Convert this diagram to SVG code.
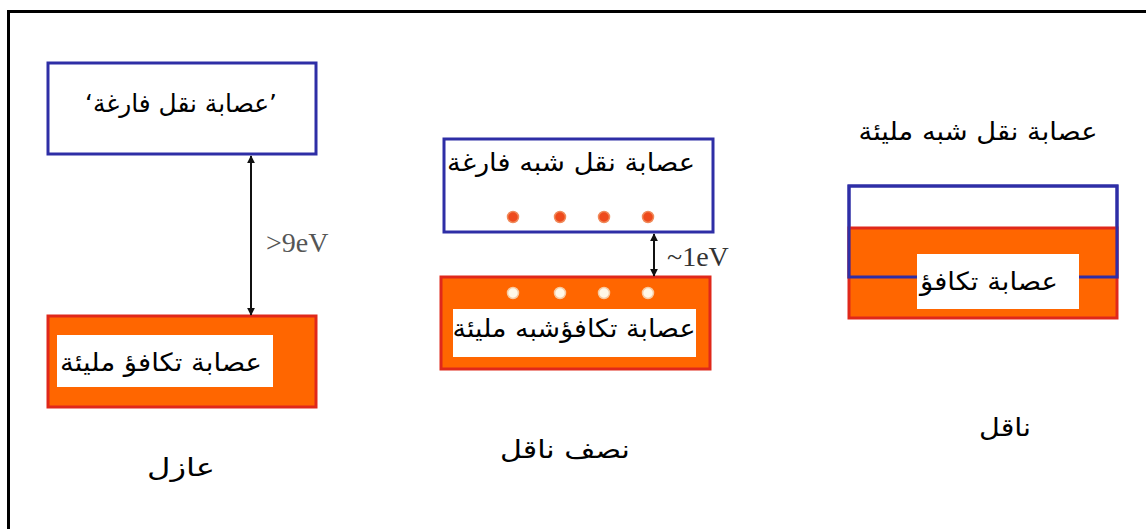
<svg xmlns="http://www.w3.org/2000/svg" width="1146" height="529" viewBox="0 0 1146 529">
<defs>
<style>
.ar{font-family:"DejaVu Sans","Noto Sans",sans-serif;font-size:25px;fill:#000;text-anchor:middle;direction:rtl}
.ev{font-family:"Liberation Serif",serif;font-size:28px}
.cb{fill:#fff;stroke:#2e2ea6;stroke-width:3}
.cbo{fill:none;stroke:#2e2ea6;stroke-width:3}
.vb{fill:#ff6600;stroke:#e0281a;stroke-width:3}
.lbl{fill:#fff;stroke:none}
.e{fill:#ee4a1c;stroke:#f08a5a;stroke-width:1.5}
.h{fill:#fff8e8;stroke:#f7c9a0;stroke-width:1.5}
.arr{stroke:#111;stroke-width:2;fill:none}
</style>
<marker id="ah" viewBox="0 0 10 10" refX="9" refY="5" markerWidth="8" markerHeight="8" orient="auto-start-reverse" markerUnits="userSpaceOnUse">
<path d="M0,0 L10,5 L0,10 z" fill="#111"/>
</marker>
</defs>
<rect x="0" y="0" width="1146" height="529" fill="#fff"/>
<g id="frame">
<line x1="8.5" y1="10" x2="8.5" y2="529" stroke="#000" stroke-width="3"/>
<line x1="7" y1="11.5" x2="1146" y2="11.5" stroke="#000" stroke-width="3"/>
</g>

<g id="insulator">
<g id="ins-cb">
<rect class="cb" x="48" y="63" width="268" height="91"/>
<text class="ar" x="181" y="112" textLength="192" lengthAdjust="spacingAndGlyphs">’عصابة نقل فارغة‘</text>
</g>
<g id="ins-vb">
<rect class="vb" x="48" y="316" width="268" height="91"/>
<rect class="lbl" x="57" y="335" width="216" height="52"/>
<text class="ar" x="161" y="371" textLength="202" lengthAdjust="spacingAndGlyphs">عصابة تكافؤ مليئة</text>
</g>
<text id="ins-gap" class="ev" x="266" y="252" fill="#555">&gt;9eV</text>
<text id="ins-title" class="ar" x="181" y="476" textLength="68" lengthAdjust="spacingAndGlyphs">عازل</text>
</g>

<g id="semiconductor">
<g id="sc-cb">
<rect class="cb" x="444" y="139" width="269" height="93"/>
<text class="ar" x="571" y="171" textLength="248" lengthAdjust="spacingAndGlyphs">عصابة نقل شبه فارغة</text>
<circle class="e" cx="513" cy="217" r="5.5"/>
<circle class="e" cx="560" cy="217" r="5.5"/>
<circle class="e" cx="604" cy="217" r="5.5"/>
<circle class="e" cx="648" cy="217" r="5.5"/>
</g>
<g id="sc-vb">
<rect class="vb" x="441" y="277" width="269" height="92"/>
<rect class="lbl" x="453" y="309" width="243" height="48"/>
<circle class="h" cx="513" cy="293" r="5.5"/>
<circle class="h" cx="560" cy="293" r="5.5"/>
<circle class="h" cx="604" cy="293" r="5.5"/>
<circle class="h" cx="648" cy="293" r="5.5"/>
<text class="ar" x="574" y="337" textLength="243" lengthAdjust="spacingAndGlyphs">عصابة تكافؤشبه مليئة</text>
</g>
<text id="sc-gap" class="ev" x="667" y="266" fill="#333">~1eV</text>
<text id="sc-title" class="ar" x="565" y="458" textLength="130" lengthAdjust="spacingAndGlyphs">نصف ناقل</text>
</g>

<g id="conductor">
<text id="cd-cb-label" class="ar" x="978" y="140" textLength="239" lengthAdjust="spacingAndGlyphs">عصابة نقل شبه مليئة</text>
<g id="cd-bands">
<rect class="cb" x="849" y="186" width="268" height="91"/>
<rect class="vb" x="849" y="228" width="268" height="90"/>
<rect class="cbo" x="849" y="186" width="268" height="91"/>
<rect class="lbl" x="917" y="254" width="162" height="55"/>
<text class="ar" x="989" y="290" textLength="138" lengthAdjust="spacingAndGlyphs">عصابة تكافؤ</text>
</g>
<text id="cd-title" class="ar" x="1005" y="436" textLength="52" lengthAdjust="spacingAndGlyphs">ناقل</text>
</g>

<g id="connectors">
<line class="arr" x1="251" y1="156" x2="251" y2="315" marker-start="url(#ah)" marker-end="url(#ah)"/>
<line class="arr" x1="654" y1="234" x2="654" y2="276" marker-start="url(#ah)" marker-end="url(#ah)"/>
</g>
</svg>
